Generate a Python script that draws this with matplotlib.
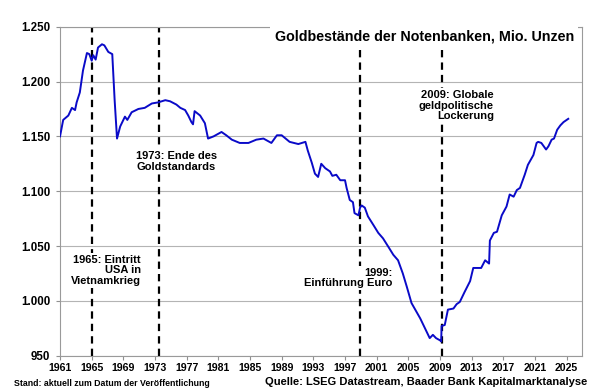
import matplotlib
matplotlib.use('Agg')
from matplotlib import pyplot as plt
from matplotlib.ticker import FuncFormatter

# Goldbestaende, Mio. Unzen
jahre = [1961.0, 1961.4, 1962.05, 1962.5, 1962.9, 1963.1, 1963.5, 1963.8, 1963.9, 1964.4,
         1964.7, 1965.0, 1965.2, 1965.5, 1965.8, 1966.3, 1966.6, 1967.1, 1967.6, 1967.9,
         1968.2, 1968.6, 1969.2, 1969.5, 1970.05, 1970.9, 1971.7, 1972.6, 1973.4, 1974.3,
         1974.9, 1975.7, 1976.2, 1976.8, 1977.2, 1977.6, 1977.8, 1978.0, 1978.7, 1979.3,
         1979.7, 1980.4, 1981.4, 1982.0, 1982.7, 1983.7, 1984.8, 1985.8, 1986.7, 1987.7,
         1988.4, 1989.0, 1990.0, 1991.1, 1992.0, 1992.3, 1992.8, 1993.2, 1993.6, 1994.0,
         1994.5, 1995.1, 1995.4, 1995.9, 1996.4, 1997.0, 1997.2, 1997.6, 1998.0, 1998.2,
         1998.7, 1998.9, 1999.1, 1999.5, 1999.9, 2000.6, 2001.2, 2001.8, 2002.5, 2003.1,
         2003.7, 2004.3, 2004.8, 2005.4, 2006.5, 2007.1, 2007.7, 2008.1, 2008.5, 2009.0,
         2009.15, 2009.2, 2009.6, 2010.0, 2010.7, 2011.1, 2011.5, 2012.1, 2012.8, 2013.2,
         2013.6, 2014.2, 2014.7, 2015.2, 2015.3, 2015.8, 2016.2, 2016.8, 2017.4, 2017.8,
         2018.3, 2018.7, 2019.1, 2019.7, 2020.1, 2020.8, 2021.2, 2021.4, 2021.8, 2022.4,
         2022.7, 2023.1, 2023.4, 2023.8, 2024.2, 2024.6, 2025.2]
gold = [1150, 1165, 1169, 1176, 1174, 1181, 1190, 1205, 1210, 1226,
        1225, 1219, 1224, 1220, 1231, 1234, 1233, 1227, 1225, 1183,
        1148, 1159, 1168, 1165, 1172, 1175, 1176, 1180, 1181, 1183,
        1182, 1179, 1176, 1174, 1169, 1163, 1161, 1173, 1169, 1162,
        1148, 1150, 1154, 1151, 1147, 1144, 1144, 1147, 1148, 1144,
        1151, 1151, 1145, 1143, 1145, 1137, 1126, 1116, 1113, 1125,
        1121, 1118, 1114, 1115, 1110, 1110, 1103, 1092, 1090, 1080,
        1078, 1085, 1087, 1085, 1077, 1069, 1062, 1057, 1049, 1042,
        1037, 1025, 1013, 998, 984, 975, 966, 969, 966, 964,
        963, 977, 978, 992, 993, 997, 999, 1008, 1018, 1030,
        1030, 1030, 1037, 1034, 1055, 1062, 1063, 1078, 1086, 1097,
        1095, 1101, 1103, 1115, 1124, 1133, 1144, 1145, 1144, 1138,
        1141, 1147, 1148, 1156, 1160, 1163, 1166]

ereignis_jahre = [1965.0, 1973.5, 1998.9, 2009.2]
xticks = list(range(1961, 2026, 4))
yticks = [950, 1000, 1050, 1100, 1150, 1200, 1250]

plt.rcParams['font.family'] = ['Liberation Sans', 'DejaVu Sans']
plt.rcParams['font.weight'] = 'bold'

fig = plt.figure(figsize=(6.02, 3.90), dpi=100)
ax = fig.add_axes([0.0997, 0.088, 0.8666, 0.8435])

ax.plot(jahre, gold, color='#0a0ac8', linewidth=1.4, zorder=3)

for j in ereignis_jahre:
    ax.axvline(j, color='black', linewidth=1.6, linestyle=(0, (3.3, 2.3)), zorder=2)

ax.set_xlim(1961, 2026.9)
ax.set_ylim(950, 1250)
ax.set_xticks(xticks)
ax.set_yticks(yticks)
ax.yaxis.set_major_formatter(FuncFormatter(lambda v, p: f'{v:,.0f}'.replace(',', '.')))
ax.tick_params(axis='x', labelsize=7.6, length=3, color='#909090', pad=2)
ax.tick_params(axis='y', labelsize=8.3, length=3, color='#909090', pad=4)
for lab in ax.get_xticklabels() + ax.get_yticklabels():
    lab.set_fontweight('bold')
ax.grid(axis='y', color='#b4b4b4', linewidth=0.8, zorder=1)
for s in ax.spines.values():
    s.set_color('#9a9a9a')
    s.set_linewidth(0.8)

box = dict(facecolor='white', edgecolor='none', pad=1.5)
ax.text(0.985, 0.969, 'Goldbestände der Notenbanken, Mio. Unzen', transform=ax.transAxes,
        ha='right', va='center', fontsize=10.3, fontweight='bold',
        bbox=dict(facecolor='white', edgecolor='none', pad=3), zorder=4)
ax.text(1971.2, 1028, '1965: Eintritt\nUSA in\nVietnamkrieg', ha='right', va='center',
        fontsize=8, fontweight='bold', linespacing=1.05, bbox=box, zorder=4)
ax.text(1975.7, 1127, '1973: Ende des\nGoldstandards', ha='center', va='center',
        fontsize=8, fontweight='bold', linespacing=1.05, bbox=box, zorder=4)
ax.text(2003.0, 1021, '1999:\nEinführung Euro', ha='right', va='center',
        fontsize=8, fontweight='bold', linespacing=1.05, bbox=box, zorder=4)
ax.text(2015.8, 1178, '2009: Globale\ngeldpolitische\nLockerung', ha='right', va='center',
        fontsize=8, fontweight='bold', linespacing=1.05, bbox=box, zorder=4)

fig.text(14 / 602, 1 - 383 / 390, 'Stand: aktuell zum Datum der Veröffentlichung', ha='left', va='center',
         fontsize=6.3, fontweight='bold')
fig.text(587 / 602, 1 - 382 / 390, 'Quelle: LSEG Datastream, Baader Bank Kapitalmarktanalyse', ha='right',
         va='center', fontsize=8, fontweight='bold')

fig.savefig('out.png', dpi=100)
